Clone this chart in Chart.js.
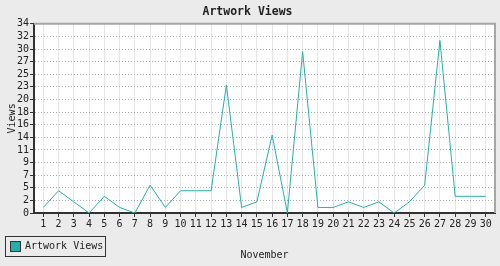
<!DOCTYPE html>
<html>
<head>
<meta charset="utf-8">
<title>Artwork Views</title>
<script src="https://cdn.jsdelivr.net/npm/chart.js@4/dist/chart.umd.min.js"></script>
<style>
  html, body { margin:0; padding:0; background:#ebebeb; }
  #wrap { position:relative; width:500px; height:266px; }
  #legend {
    position:absolute; left:5px; top:236px; width:99px; height:19px;
    border:1px solid #333; font:10px "DejaVu Sans Mono", monospace; color:#222;
    box-sizing:content-box;
  }
  #legend .sw {
    position:absolute; left:4px; top:4px; width:9px; height:9px;
    background:#20b2aa; border:1px solid #333;
  }
  #legend .tx { position:absolute; left:19px; top:3px; line-height:12px; white-space:nowrap; }
</style>
</head>
<body>
<div id="wrap">
  <canvas id="c" width="500" height="266"></canvas>
  <div id="legend"><span class="sw"></span><span class="tx" id="legendText"></span></div>
</div>
<script>
const days = Array.from({length:30}, (_,i)=> i+1);
const views = [1,4,2,0,3,1,0,5,1,4,4,4,23,1,2,14,0,29,1,1,2,1,2,0,2,5,31,3,3,3];
const yTickLabels = [0,2,5,7,9,11,14,16,18,20,23,25,27,30,32,34];
const yMax = 34;
const mono = "'DejaVu Sans Mono', monospace";

// fond blanc + cadre gris haut/droite
const frame = {
  id: "frame",
  beforeDraw(chart){
    const {ctx, chartArea:a} = chart;
    ctx.save();
    ctx.fillStyle = "#ffffff";
    ctx.fillRect(a.left, a.top, a.right-a.left, a.bottom-a.top);
    ctx.restore();
  },
  beforeDatasetsDraw(chart){
    const {ctx, chartArea:a} = chart;
    ctx.save();
    ctx.strokeStyle = "#a6a6a6";
    ctx.lineWidth = 2;
    ctx.beginPath();
    ctx.moveTo(a.left, a.top);
    ctx.lineTo(a.right, a.top);
    ctx.lineTo(a.right, a.bottom);
    ctx.stroke();
    ctx.restore();
  }
};

document.getElementById("legendText").textContent = "Artwork Views";

new Chart(document.getElementById("c"), {
  type: "line",
  data: {
    datasets: [{
      label: "Artwork Views",
      data: days.map((d,i)=>({x:d, y:views[i]})),
      borderColor: "#20b2aa",
      borderWidth: 1,
      pointRadius: 0,
      tension: 0,
      fill: false
    }]
  },
  plugins: [frame],
  options: {
    responsive: false,
    animation: false,
    devicePixelRatio: 1,
    layout: { padding: { left:0, right:5, top:0, bottom:0 } },
    plugins: {
      legend: { display:false },
      tooltip: { enabled:false },
      title: {
        display: true, text: "Artwork Views", color: "#222",
        font: { family: mono, size: 11.5, weight: "bold" },
        padding: { top:5, bottom:5 }
      }
    },
    scales: {
      x: {
        type: "linear", min: 0.39, max: 30.61,
        afterBuildTicks: s => { s.ticks = days.map(d=>({value:d})); },
        afterFit: s => { s.height = 53; },
        ticks: { autoSkip:false, maxRotation:0, padding:1, color:"#222",
                 font:{ family:mono, size:10 }, callback: v => v },
        grid: { color:"#e6e6e6", lineWidth:1, tickLength:4, tickColor:"#333" },
        border: { color:"#333", width:2 },
        title: { display:true, text:"November", color:"#222",
                 font:{ family:mono, size:10 }, padding:{ top:0, bottom:5 } }
      },
      y: {
        min: 0, max: yMax,
        afterBuildTicks: s => { s.ticks = yTickLabels.map((l,i)=>({value: i*yMax/(yTickLabels.length-1)})); },
        afterFit: s => { s.width = 34; },
        ticks: { autoSkip:false, padding:1, color:"#222", font:{ family:mono, size:10 },
                 callback: (v,i) => yTickLabels[i] },
        grid: {
          color: c => (c.index === 0 || c.index === yTickLabels.length-1) ? "rgba(0,0,0,0)" : "#aaa",
          lineWidth:1, tickLength:4, tickColor:"#333", tickBorderDash:[]
        },
        border: { color:"#333", width:2, dash:[1,2] },
        title: { display:true, text:"Views", color:"#222",
                 font:{ family:mono, size:10 }, padding:{ top:6, bottom:0 } }
      }
    }
  }
});
</script>
</body>
</html>
